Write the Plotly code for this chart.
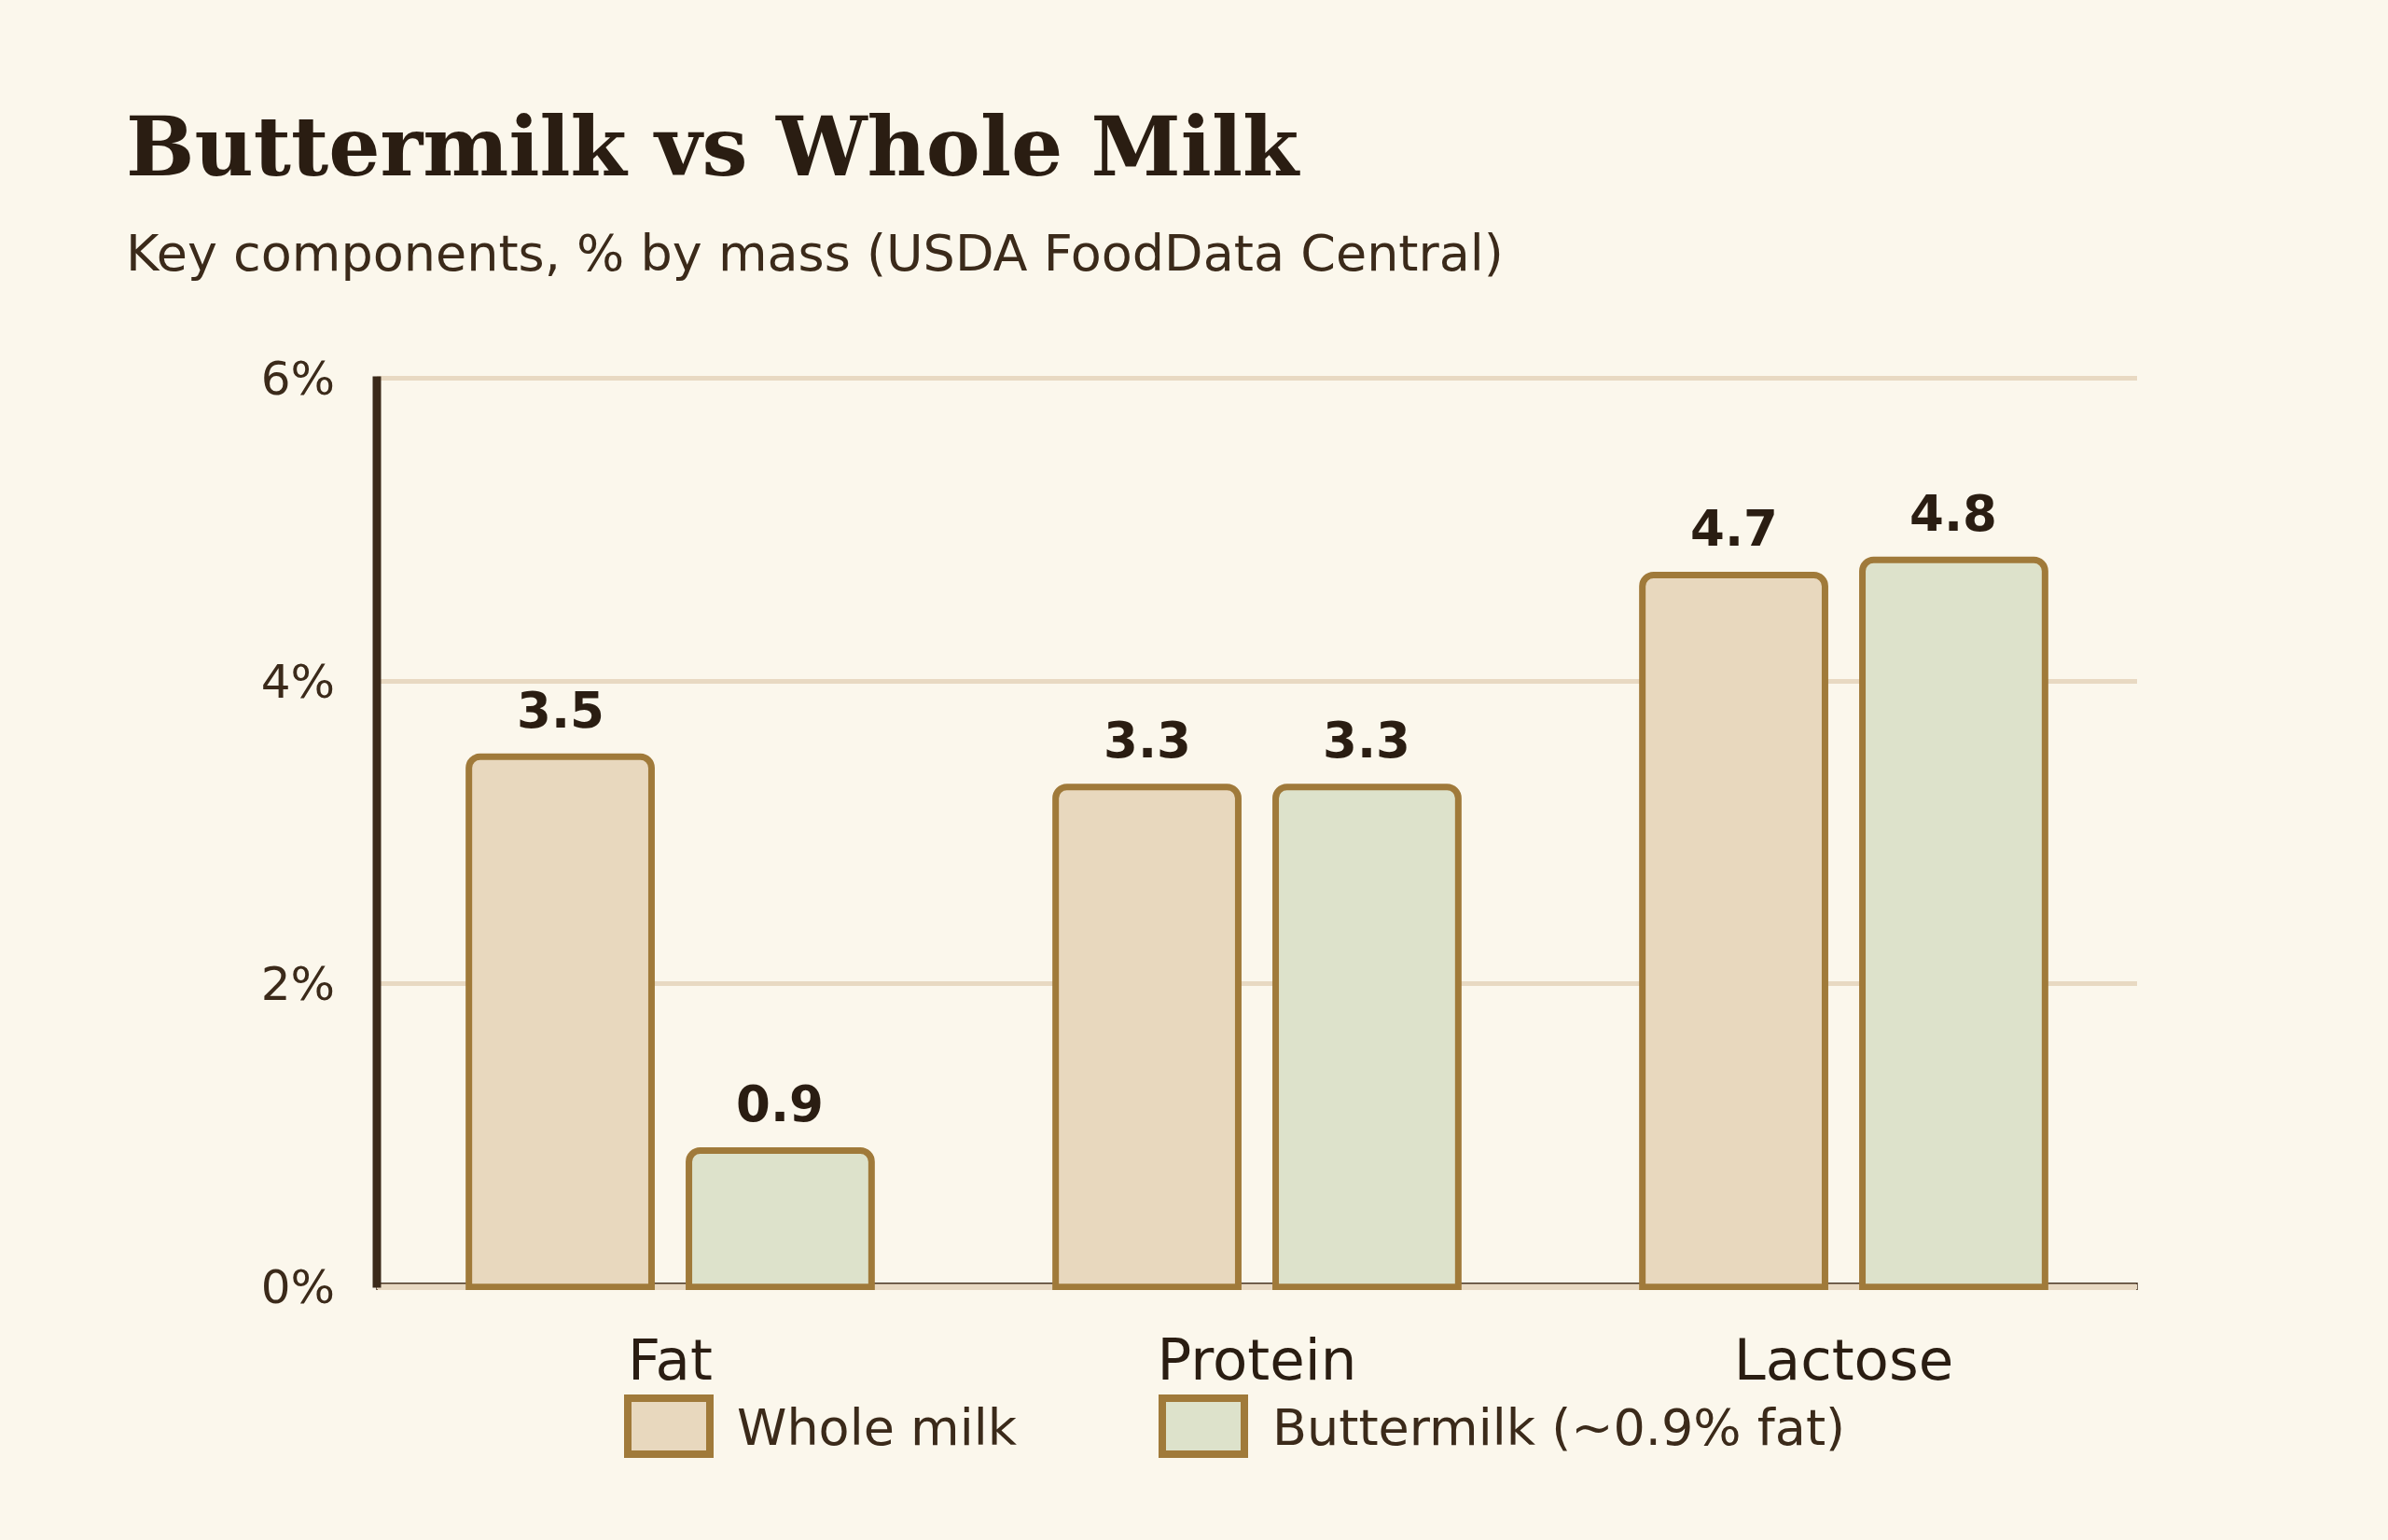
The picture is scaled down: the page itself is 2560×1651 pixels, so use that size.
import plotly.graph_objects as go

# ---- data ----
categories = ["Fat", "Protein", "Lactose"]
whole_milk = [3.5, 3.3, 4.7]
buttermilk = [0.9, 3.3, 4.8]
series_names = ["Whole milk", "Buttermilk (~0.9% fat)"]
y_ticks = [0, 2, 4, 6]
y_tick_labels = ["0%", "2%", "4%", "6%"]
title_text = "Buttermilk vs Whole Milk"
subtitle_text = "Key components, % by mass (USDA FoodData Central)"

# ---- style ----
W, H = 2560, 1651
Y_RANGE = [-0.02, 6.02]
ML, MR, MT, MB = 404, 269, 402, 268
PW, PH = W - ML - MR, H - MT - MB
BG = "#FBF7EC"
FILL_WHOLE = "#E8D8BE"
FILL_BUTTER = "#DDE2CB"
STROKE = "#A07A3A"
GRID = "#E8D9C2"
DARK = "#3B2A1A"
DARKER = "#2A1D12"
BARGAP = 0.25
BARGROUPGAP = 0.17


def px_x(px):
    return (px - ML) / PW


def px_y(py):
    return (H - MB - py) / PH


fig = go.Figure()
for name, vals, fill in [(series_names[0], whole_milk, FILL_WHOLE),
                         (series_names[1], buttermilk, FILL_BUTTER)]:
    fig.add_trace(go.Bar(
        x=categories, y=vals, name=name,
        marker=dict(color=fill, line=dict(color=STROKE, width=7), cornerradius=12),
        hoverinfo="skip",
    ))

# value labels
off = (1 - BARGAP) / 4
annotations = []
for i, cat in enumerate(categories):
    for sign, vals in [(-1, whole_milk), (1, buttermilk)]:
        annotations.append(dict(
            x=i + sign * off, y=vals[i], xref="x", yref="y",
            text=f"<b>{vals[i]:.1f}</b>", showarrow=False,
            yanchor="middle", xanchor="center", yshift=50,
            font=dict(family="DejaVu Sans", size=53, color=DARKER),
        ))

# title & subtitle
annotations.append(dict(
    x=px_x(133), y=px_y(157), xref="paper", yref="paper",
    text=f"<b>{title_text}</b>", showarrow=False, xanchor="left", yanchor="middle",
    font=dict(family="DejaVu Serif", size=87, color=DARKER),
))
annotations.append(dict(
    x=px_x(133), y=px_y(271), xref="paper", yref="paper",
    text=subtitle_text, showarrow=False, xanchor="left", yanchor="middle",
    font=dict(family="DejaVu Sans", size=54, color=DARK),
))

# custom legend
shapes = []
legend_items = [(673, 761, 788, FILL_WHOLE, series_names[0]),
                (1246, 1334, 1362, FILL_BUTTER, series_names[1])]
for x0, x1, tx, fill, name in legend_items:
    shapes.append(dict(type="rect", xref="paper", yref="paper",
                       x0=px_x(x0), x1=px_x(x1), y0=px_y(1559), y1=px_y(1499),
                       fillcolor=fill, line=dict(color=STROKE, width=8)))
    annotations.append(dict(
        x=px_x(tx), y=px_y(1530), xref="paper", yref="paper",
        text=name, showarrow=False, xanchor="left", yanchor="middle",
        font=dict(family="DejaVu Sans", size=54, color=DARK),
    ))

# baseline band and y axis line
shapes.append(dict(type="rect", xref="paper", yref="y", x0=0, x1=1,
                   y0=-0.037, y1=0.025, fillcolor=GRID,
                   line=dict(color="#4A3725", width=1.5), layer="below"))
shapes.append(dict(type="line", xref="paper", yref="y", x0=0, x1=0,
                   y0=-0.005, y1=6.01, line=dict(color=DARK, width=9)))

fig.update_layout(
    width=W, height=H,
    margin=dict(l=ML, r=MR, t=MT, b=MB, pad=0),
    paper_bgcolor=BG, plot_bgcolor=BG,
    barmode="group", bargap=BARGAP, bargroupgap=BARGROUPGAP,
    showlegend=False,
    shapes=shapes, annotations=annotations,
    font=dict(family="DejaVu Sans", color=DARK),
    xaxis=dict(showgrid=False, showline=False, zeroline=False, ticks="",
               tickfont=dict(family="DejaVu Sans", size=61, color=DARKER),
               ticklabelstandoff=34, range=[-0.5, 2.5]),
    yaxis=dict(range=Y_RANGE, tickvals=y_ticks, ticktext=y_tick_labels,
               showgrid=True, gridcolor=GRID, gridwidth=5, zeroline=False,
               showline=False, ticks="",
               tickfont=dict(family="DejaVu Sans", size=50, color=DARK),
               ticklabelstandoff=44),
)

fig.write_html("out.html")
